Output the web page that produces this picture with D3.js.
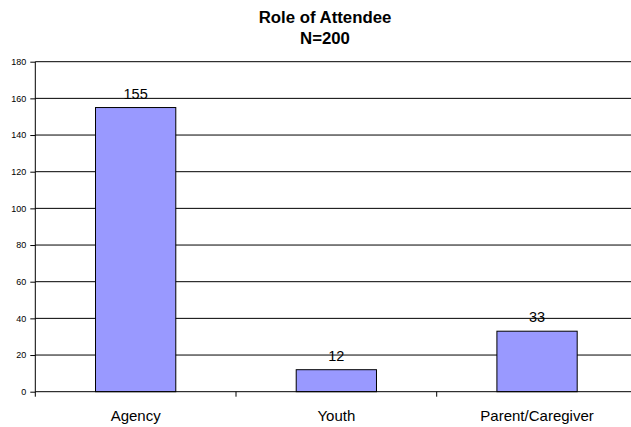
<!DOCTYPE html>
<html>
<head>
<meta charset="utf-8">
<script src="https://cdn.jsdelivr.net/npm/d3@7"></script>
<style>
  html, body { margin: 0; padding: 0; background: #fff; }
  svg { display: block; }
  text { font-family: "Liberation Sans", Arial, sans-serif; fill: #000; }
</style>
</head>
<body>
<svg id="chart" width="631" height="427"></svg>
<script>
const categories = ["Agency", "Youth", "Parent/Caregiver"];
const values = [155, 12, 33];
const yTicks = [0, 20, 40, 60, 80, 100, 120, 140, 160, 180];
const titleLines = ["Role of Attendee", "N=200"];

(function () {
const svg = d3.select("#chart");
const pLeft = 35.3, pRight = 637.4, pTop = 61.7, pBottom = 391.7;

const x = d3.scaleBand().domain(categories).range([pLeft, pRight]).padding(0);
const y = d3.scaleLinear().domain([0, 180]).range([pBottom, pTop]);

// Title
svg.selectAll("text.title").data(titleLines).enter().append("text")
  .attr("class", "title")
  .attr("x", 325).attr("y", (d, i) => 22.5 + i * 21)
  .attr("text-anchor", "middle")
  .style("font-size", "16.8px").style("font-weight", "bold")
  .text(d => d);

// Gridlines
svg.append("g").selectAll("line").data(yTicks.filter(d => d > 0)).enter().append("line")
  .attr("x1", pLeft).attr("x2", 631)
  .attr("y1", d => y(d)).attr("y2", d => y(d))
  .attr("stroke", "#000").attr("stroke-width", 1);

// Bars
const barW = x.bandwidth() * 0.4;
svg.append("g").selectAll("rect").data(values).enter().append("rect")
  .attr("x", (d, i) => x(categories[i]) + x.bandwidth() / 2 - barW / 2)
  .attr("y", d => y(d))
  .attr("width", barW)
  .attr("height", d => y(0) - y(d))
  .attr("fill", "#9999FF").attr("stroke", "#000").attr("stroke-width", 1);

// Value labels
svg.append("g").selectAll("text").data(values).enter().append("text")
  .attr("x", (d, i) => x(categories[i]) + x.bandwidth() / 2)
  .attr("y", d => y(d) - 9)
  .attr("text-anchor", "middle")
  .style("font-size", "14.5px")
  .text(d => d);

// Y axis
const yAxis = d3.axisLeft(y).tickValues(yTicks).tickSize(5).tickPadding(4);
const gy = svg.append("g").attr("transform", `translate(${pLeft},0)`).call(yAxis);
gy.select(".domain").attr("stroke", "#000").attr("d", `M0,${pTop}V${pBottom + 5}`);
gy.selectAll(".tick line").attr("stroke", "#000");
gy.selectAll(".tick text").style("font-size", "9px").style("font-family", "'Liberation Sans', Arial, sans-serif").attr("fill", "#000");

// X axis line
svg.append("line").attr("x1", pLeft).attr("x2", 631).attr("y1", pBottom).attr("y2", pBottom)
  .attr("stroke", "#000").attr("stroke-width", 1);

// X boundary ticks
const boundaries = categories.slice(1).map(c => x(c));
svg.append("g").selectAll("line").data(boundaries).enter().append("line")
  .attr("x1", d => d).attr("x2", d => d)
  .attr("y1", pBottom).attr("y2", pBottom + 5)
  .attr("stroke", "#000");

// X labels
svg.append("g").selectAll("text").data(categories).enter().append("text")
  .attr("x", d => x(d) + x.bandwidth() / 2)
  .attr("y", 420.5)
  .attr("text-anchor", "middle")
  .style("font-size", "15px")
  .text(d => d);
})();
</script>
</body>
</html>
